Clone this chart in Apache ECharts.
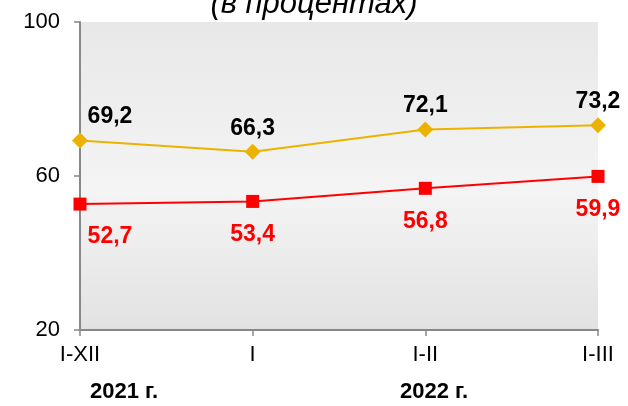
<!DOCTYPE html>
<html>
<head>
<meta charset="utf-8">
<script src="https://cdn.jsdelivr.net/npm/echarts@6/dist/echarts.min.js"></script>
<style>
html, body { margin: 0; padding: 0; background: #fff; }
#chart { width: 628px; height: 406px; }
</style>
</head>
<body>
<div id="chart"></div>
<script>
// periods on the x axis
const periods = ['I-XII', 'I', 'I-II', 'I-III'];
// upper series (yellow)
const upperValues = [69.2, 66.3, 72.1, 73.2];
// lower series (red)
const lowerValues = [52.7, 53.4, 56.8, 59.9];
const yTicks = [20, 60, 100];
const years = ['2021 г.', '2022 г.'];

const fmt = p => String(p.value).replace('.', ',');

let myChart = echarts.init(document.getElementById('chart'));
myChart.setOption({
	animation: false,
	textStyle: { fontFamily: 'Liberation Sans, Arial, sans-serif' },
	title: {
		text: '(в процентах)',
		left: 'center',
		top: -16,
		textStyle: {
			fontStyle: 'italic',
			fontWeight: 'normal',
			fontSize: 31,
			color: '#000'
		}
	},
	grid: {
		left: 80,
		right: 30,
		top: 22,
		bottom: 76,
		show: true,
		borderWidth: 0,
		backgroundColor: new echarts.graphic.LinearGradient(0, 0, 0, 1, [
			{ offset: 0, color: '#e8e8e8' },
			{ offset: 0.55, color: '#f4f4f4' },
			{ offset: 1, color: '#e2e2e2' }
		])
	},
	xAxis: {
		type: 'category',
		data: periods,
		boundaryGap: false,
		axisLine: { lineStyle: { color: '#888', width: 2 } },
		axisTick: { show: true, length: 6, lineStyle: { color: '#888', width: 1.5 } },
		axisLabel: { color: '#000', fontSize: 22, margin: 14 }
	},
	yAxis: {
		type: 'value',
		min: yTicks[0],
		max: yTicks[yTicks.length - 1],
		interval: 40,
		axisLine: { show: true, lineStyle: { color: '#888', width: 2 } },
		axisTick: { show: true, length: 6, lineStyle: { color: '#888', width: 1.5 } },
		splitLine: { show: false },
		axisLabel: { color: '#000', fontSize: 22, margin: 20 }
	},
	graphic: [
		{
			type: 'text', x: 124, y: 392,
			style: { text: years[0], font: 'bold 22px Liberation Sans, Arial', fill: '#000', align: 'center', verticalAlign: 'middle' }
		},
		{
			type: 'text', x: 434, y: 392,
			style: { text: years[1], font: 'bold 22px Liberation Sans, Arial', fill: '#000', align: 'center', verticalAlign: 'middle' }
		}
	],
	series: [
		{
			type: 'line',
			data: upperValues,
			symbol: 'diamond',
			symbolSize: 16,
			itemStyle: { color: '#ebb300' },
			lineStyle: { color: '#ebb300', width: 2 },
			label: {
				show: true,
				position: 'top',
				distance: 4,
				formatter: fmt,
				color: '#000',
				fontSize: 23,
				fontWeight: 'bold'
			},
			labelLayout: p => p.dataIndex === 0 ? { dx: 30 } : {}
		},
		{
			type: 'line',
			data: lowerValues,
			symbol: 'rect',
			symbolSize: 13,
			itemStyle: { color: '#ff0000' },
			lineStyle: { color: '#ff0000', width: 2 },
			label: {
				show: true,
				position: 'bottom',
				distance: 15,
				formatter: fmt,
				color: '#ff0000',
				fontSize: 23,
				fontWeight: 'bold'
			},
			labelLayout: p => p.dataIndex === 0 ? { dx: 30 } : {}
		}
	]
});
</script>
</body>
</html>
